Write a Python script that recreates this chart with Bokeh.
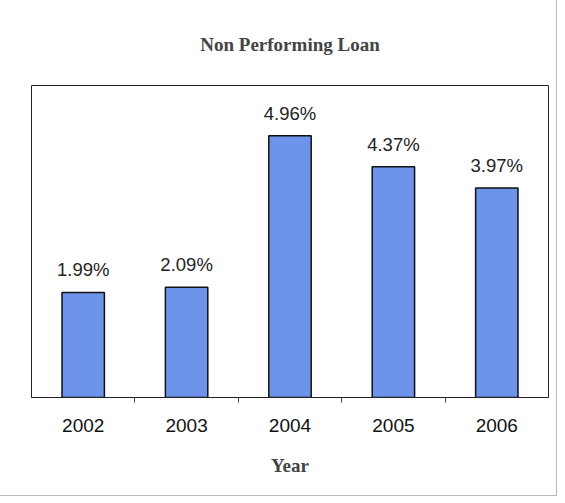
from bokeh.plotting import figure
from bokeh.models import FixedTicker, ColumnDataSource, Range1d
from bokeh.core.properties import value
from bokeh.embed import file_html
from bokeh.resources import INLINE

years = [2002, 2003, 2004, 2005, 2006]
npl = [1.99, 2.09, 4.96, 4.37, 3.97]
labels = [f"{v:.2f}%" for v in npl]
boundaries = [2002.5, 2003.5, 2004.5, 2005.5]

src = ColumnDataSource(dict(x=years, top=npl, label=labels))

p = figure(width=556, height=495, output_backend="svg", toolbar_location=None,
           x_range=Range1d(2001.5, 2006.5), y_range=Range1d(0, 5.91),
           min_border_left=31, min_border_right=8, min_border_top=85, min_border_bottom=98)
p.styles = {"outline": "1px solid #bbbbbb"}

p.title.text = "Non Performing Loan"
p.title.align = "center"
p.title.vertical_align = "top"
p.title.text_font = "Liberation Serif"
p.title.text_font_size = "19px"
p.title.text_font_style = "bold"
p.title.standoff = 58

p.vbar(x="x", top="top", width=0.41, source=src, fill_color="#6E93EA",
       line_color="#111111", line_width=1.5)
p.text(x="x", y="top", text="label", source=src, text_align="center",
       text_baseline="bottom", y_offset=-12, text_font=value("Liberation Sans"),
       text_font_size="18.5px", text_color="#222222")

p.xgrid.visible = False
p.ygrid.visible = False
p.yaxis.visible = False
p.outline_line_color = "#222222"
p.outline_line_width = 1

ax = p.xaxis[0]
ax.ticker = FixedTicker(ticks=years, minor_ticks=boundaries)
ax.major_tick_line_color = None
ax.minor_tick_in = 0
ax.minor_tick_out = 5
ax.minor_tick_line_color = "#444444"
ax.axis_line_color = "#222222"
ax.major_label_text_font = "Liberation Sans"
ax.major_label_text_font_size = "19px"
ax.major_label_text_color = "#111111"
ax.major_label_standoff = 15
ax.axis_label = "Year"
ax.axis_label_text_font = "Liberation Serif"
ax.axis_label_text_font_style = "bold"
ax.axis_label_text_font_size = "19px"
ax.axis_label_standoff = 20

open("out.html", "w").write(file_html(p, INLINE))
